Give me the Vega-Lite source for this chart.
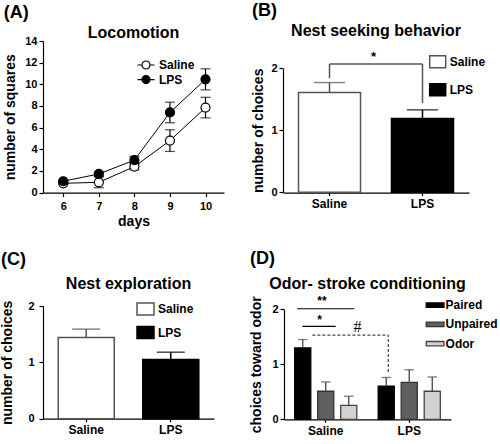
{
  "$schema": "https://vega.github.io/schema/vega-lite/v6.json",
  "padding": {"left": 0, "top": 2, "right": 50, "bottom": 0},
  "background": "white",
  "config": {
    "font": "Liberation Sans",
    "view": {"stroke": null},
    "axis": {"grid": false, "labelOverlap": false, "domainColor": "black", "tickColor": "black", "labelColor": "black", "titleColor": "black", "labelFontWeight": "bold", "labelFontSize": 11, "titleFontWeight": "bold", "titleFontSize": 14, "tickSize": 4, "domainWidth": 1.2, "tickWidth": 1.2, "labelPadding": 2},
    "title": {"fontWeight": "bold", "fontSize": 16, "color": "black"},
    "legend": {"labelFontWeight": "bold", "labelFontSize": 12, "labelColor": "black", "padding": 0, "title": null, "labelLimit": 200}
  },
  "resolve": {"scale": {"x": "independent", "y": "independent", "fill": "independent", "stroke": "independent", "color": "independent"}, "legend": {"fill": "independent", "stroke": "independent"}},
  "spacing": 20,
  "vconcat": [
    {
      "spacing": 27,
      "resolve": {"scale": {"x": "independent", "y": "independent", "fill": "independent", "stroke": "independent", "color": "independent"}, "legend": {"fill": "independent", "stroke": "independent"}},
      "hconcat": [
        {
          "title": {"text": "(A)", "anchor": "start", "fontSize": 18, "offset": 3},
          "vconcat": [
            {
              "title": {"text": "Locomotion", "offset": -6},
              "width": 181,
              "height": 151.6,
              "data": {"values": [
                {"day": 6, "group": "Saline", "mean": 0.86, "lo": 0.76, "hi": 0.96},
                {"day": 6, "group": "LPS", "mean": 1.05, "lo": 0.95, "hi": 1.15},
                {"day": 7, "group": "Saline", "mean": 0.95, "lo": 0.45, "hi": 1.45},
                {"day": 7, "group": "LPS", "mean": 1.72, "lo": 1.52, "hi": 1.92},
                {"day": 8, "group": "Saline", "mean": 2.4, "lo": 2.1, "hi": 2.7},
                {"day": 8, "group": "LPS", "mean": 3.0, "lo": 2.65, "hi": 3.35},
                {"day": 9, "group": "Saline", "mean": 4.8, "lo": 3.8, "hi": 5.8},
                {"day": 9, "group": "LPS", "mean": 7.4, "lo": 6.45, "hi": 8.35},
                {"day": 10, "group": "Saline", "mean": 7.85, "lo": 6.9, "hi": 8.8},
                {"day": 10, "group": "LPS", "mean": 10.46, "lo": 9.49, "hi": 11.43}
              ]},
              "encoding": {
                "x": {"field": "day", "type": "quantitative", "scale": {"domain": [5.43, 10.52], "nice": false, "zero": false}, "axis": {"values": [6, 7, 8, 9, 10], "title": "days", "titlePadding": 3, "labelPadding": 4}}
              },
              "layer": [
                {"mark": {"type": "rule", "color": "black", "strokeWidth": 1.2},
                 "encoding": {"y": {"field": "lo", "type": "quantitative", "title": "number of squares", "scale": {"domain": [0, 14], "nice": false}, "axis": {"values": [0, 2, 4, 6, 8, 10, 12, 14], "labelOverlap": false, "labelExpr": "datum.value", "titlePadding": 7}}, "y2": {"field": "hi"}}},
                {"mark": {"type": "tick", "orient": "horizontal", "size": 10, "thickness": 1.2, "color": "black"},
                 "encoding": {"y": {"field": "lo", "type": "quantitative", "title": "number of squares", "axis": {"values": [0, 2, 4, 6, 8, 10, 12, 14], "labelOverlap": false, "labelExpr": "datum.value", "titlePadding": 7}}}},
                {"mark": {"type": "tick", "orient": "horizontal", "size": 10, "thickness": 1.2, "color": "black"},
                 "encoding": {"y": {"field": "hi", "type": "quantitative", "title": "number of squares", "axis": {"values": [0, 2, 4, 6, 8, 10, 12, 14], "labelOverlap": false, "labelExpr": "datum.value", "titlePadding": 7}}}},
                {"mark": {"type": "line", "color": "black", "strokeWidth": 1},
                 "encoding": {"y": {"field": "mean", "type": "quantitative", "title": "number of squares", "axis": {"values": [0, 2, 4, 6, 8, 10, 12, 14], "labelOverlap": false, "labelExpr": "datum.value", "titlePadding": 7}}, "detail": {"field": "group"}}},
                {"mark": {"type": "point", "shape": "circle", "size": 81, "filled": true, "stroke": "black", "strokeWidth": 1.2, "opacity": 1},
                 "encoding": {
                   "y": {"field": "mean", "type": "quantitative", "title": "number of squares", "axis": {"values": [0, 2, 4, 6, 8, 10, 12, 14], "labelOverlap": false, "labelExpr": "datum.value", "titlePadding": 7}},
                   "fill": {"field": "group", "type": "nominal", "scale": {"domain": ["Saline", "LPS"], "range": ["white", "black"]},
                     "legend": {"orient": "none", "legendX": 97, "legendY": 18, "symbolType": "M-1.7,0H-0.8M0.8,0H1.7M-0.8,0A0.8,0.8 0 1,1 0.8,0A0.8,0.8 0 1,1 -0.8,0", "symbolSize": 100, "symbolStrokeColor": "black", "symbolStrokeWidth": 1.2, "labelOffset": 7, "rowPadding": 0.6}}
                 }}
              ]
            }
          ]
        },
        {
          "title": {"text": "(B)", "anchor": "start", "fontSize": 18, "offset": 3},
          "vconcat": [
            {
              "title": {"text": "Nest seeking behavior", "offset": 2},
              "width": 186,
              "height": 151.6,
              "layer": [
                {
                  "data": {"values": [
                    {"group": "Saline", "mean": 1.61, "hi": 1.77},
                    {"group": "LPS", "mean": 1.19, "hi": 1.33}
                  ]},
                  "layer": [
                    {"mark": {"type": "bar", "strokeWidth": 1.5},
                     "encoding": {
                       "x": {"field": "group", "type": "nominal", "sort": ["Saline", "LPS"], "scale": {"domain": ["Saline", "LPS"], "paddingInner": 0.333, "paddingOuter": 0.1667}, "axis": {"title": null, "labelAngle": 0, "tickSize": 3, "labelFontSize": 12, "labelPadding": 3}},
                       "y": {"field": "mean", "type": "quantitative", "title": "number of choices", "scale": {"domain": [0, 2], "nice": false, "range": [151.3, 27.3]}, "axis": {"values": [0, 1, 2], "labelOverlap": false, "labelExpr": "datum.value", "titlePadding": 5}},
                       "fill": {"field": "group", "type": "nominal", "scale": {"domain": ["Saline", "LPS"], "range": ["white", "black"]}, "legend": {"orient": "none", "legendX": 145.7, "legendY": 11.8, "symbolType": "M-1,-0.75H1V0.75H-1Z", "symbolSize": 256, "symbolStrokeWidth": 1.5, "labelOffset": 3, "rowPadding": 10}},
                       "stroke": {"field": "group", "type": "nominal", "scale": {"domain": ["Saline", "LPS"], "range": ["#555555", "black"]}, "legend": {"orient": "none", "legendX": 145.7, "legendY": 11.8, "symbolType": "M-1,-0.75H1V0.75H-1Z", "symbolSize": 256, "symbolStrokeWidth": 1.5, "labelOffset": 3, "rowPadding": 10}}
                     }},
                    {"mark": {"type": "rule", "strokeWidth": 1.5},
                     "encoding": {
                       "x": {"field": "group", "type": "nominal"},
                       "y": {"field": "mean", "type": "quantitative", "title": "number of choices", "axis": {"values": [0, 1, 2], "labelOverlap": false, "labelExpr": "datum.value", "titlePadding": 5}},
                       "y2": {"field": "hi"},
                       "color": {"condition": {"test": "datum.group === 'Saline'", "value": "#555555"}, "value": "black"}
                     }},
                    {"mark": {"type": "tick", "orient": "horizontal", "size": 31, "thickness": 1.5},
                     "encoding": {
                       "x": {"field": "group", "type": "nominal"},
                       "y": {"field": "hi", "type": "quantitative", "title": "number of choices", "axis": {"values": [0, 1, 2], "labelOverlap": false, "labelExpr": "datum.value", "titlePadding": 5}},
                       "color": {"condition": {"test": "datum.group === 'Saline'", "value": "#555555"}, "value": "black"}
                     }}
                  ]
                },
                {
                  "data": {"values": [
                    {"x": "Saline", "y": 1.84, "y2": 2.07},
                    {"x": "LPS", "y": 1.44, "y2": 2.07}
                  ]},
                  "mark": {"type": "rule", "color": "#555555", "strokeWidth": 1.5},
                  "encoding": {"x": {"field": "x", "type": "nominal", "bandPosition": 0.5}, "y": {"field": "y", "type": "quantitative", "title": "number of choices", "axis": {"values": [0, 1, 2], "labelOverlap": false, "labelExpr": "datum.value", "titlePadding": 5}}, "y2": {"field": "y2"}}
                },
                {
                  "data": {"values": [{"x": "Saline", "x2": "LPS", "y": 2.07}]},
                  "mark": {"type": "rule", "color": "#555555", "strokeWidth": 1.5},
                  "encoding": {"x": {"field": "x", "type": "nominal", "bandPosition": 0.5}, "x2": {"field": "x2", "bandPosition": 0.5}, "y": {"field": "y", "type": "quantitative", "title": "number of choices", "axis": {"values": [0, 1, 2], "labelOverlap": false, "labelExpr": "datum.value", "titlePadding": 5}}}
                },
                {
                  "data": {"values": [{"x": "Saline", "y": 2.19, "label": "*"}]},
                  "mark": {"type": "text", "fontSize": 13, "fontWeight": "bold", "color": "black"},
                  "encoding": {"x": {"field": "x", "type": "nominal", "bandPosition": 1.21}, "y": {"field": "y", "type": "quantitative", "title": "number of choices", "axis": {"values": [0, 1, 2], "labelOverlap": false, "labelExpr": "datum.value", "titlePadding": 5}}, "text": {"field": "label"}}
                }
              ]
            }
          ]
        }
      ]
    },
    {
      "spacing": 35,
      "resolve": {"scale": {"x": "independent", "y": "independent", "fill": "independent", "stroke": "independent", "color": "independent"}, "legend": {"fill": "independent", "stroke": "independent"}},
      "hconcat": [
        {
          "title": {"text": "(C)", "anchor": "start", "fontSize": 18, "offset": 7},
          "vconcat": [
            {
              "title": {"text": "Nest exploration", "offset": 8},
              "width": 171,
              "height": 112.7,
              "data": {"values": [
                {"group": "Saline", "mean": 1.44, "hi": 1.59},
                {"group": "LPS", "mean": 1.05, "hi": 1.18}
              ]},
              "layer": [
                {"mark": {"type": "bar", "strokeWidth": 1.5},
                 "encoding": {
                   "x": {"field": "group", "type": "nominal", "sort": ["Saline", "LPS"], "scale": {"domain": ["Saline", "LPS"], "paddingInner": 0.337, "paddingOuter": 0.18}, "axis": {"title": null, "labelAngle": 0, "tickSize": 3, "labelFontSize": 12, "labelPadding": 3}},
                   "y": {"field": "mean", "type": "quantitative", "title": "number of choices", "scale": {"domain": [0, 2], "nice": false}, "axis": {"values": [0, 1, 2], "labelOverlap": false, "labelExpr": "datum.value", "titlePadding": 13, "labelPadding": 5}},
                   "fill": {"field": "group", "type": "nominal", "scale": {"domain": ["Saline", "LPS"], "range": ["white", "black"]}, "legend": {"orient": "none", "legendX": 93, "legendY": -6.5, "symbolType": "M-1,-0.7H1V0.7H-1Z", "symbolSize": 289, "symbolStrokeWidth": 1.5, "labelOffset": 3, "rowPadding": 4.5}},
                   "stroke": {"field": "group", "type": "nominal", "scale": {"domain": ["Saline", "LPS"], "range": ["#555555", "black"]}, "legend": {"orient": "none", "legendX": 93, "legendY": -6.5, "symbolType": "M-1,-0.7H1V0.7H-1Z", "symbolSize": 289, "symbolStrokeWidth": 1.5, "labelOffset": 3, "rowPadding": 4.5}}
                 }},
                {"mark": {"type": "rule", "strokeWidth": 1.5},
                 "encoding": {
                   "x": {"field": "group", "type": "nominal"},
                   "y": {"field": "mean", "type": "quantitative", "title": "number of choices", "axis": {"values": [0, 1, 2], "labelOverlap": false, "labelExpr": "datum.value", "titlePadding": 13, "labelPadding": 5}},
                   "y2": {"field": "hi"},
                   "color": {"condition": {"test": "datum.group === 'Saline'", "value": "#555555"}, "value": "black"}
                 }},
                {"mark": {"type": "tick", "orient": "horizontal", "size": 28, "thickness": 1.5},
                 "encoding": {
                   "x": {"field": "group", "type": "nominal"},
                   "y": {"field": "hi", "type": "quantitative", "title": "number of choices", "axis": {"values": [0, 1, 2], "labelOverlap": false, "labelExpr": "datum.value", "titlePadding": 13, "labelPadding": 5}},
                   "color": {"condition": {"test": "datum.group === 'Saline'", "value": "#555555"}, "value": "black"}
                 }}
              ]
            }
          ]
        },
        {
          "title": {"text": "(D)", "anchor": "start", "fontSize": 18, "offset": 8},
          "vconcat": [
            {
              "title": {"text": "Odor- stroke conditioning", "offset": 3},
              "width": 167,
              "height": 113.3,
              "layer": [
                {
                  "data": {"values": [
                    {"group": "Saline", "cond": "Paired", "mean": 1.30, "hi": 1.45},
                    {"group": "Saline", "cond": "Unpaired", "mean": 0.51, "hi": 0.68},
                    {"group": "Saline", "cond": "Odor", "mean": 0.255, "hi": 0.42},
                    {"group": "LPS", "cond": "Paired", "mean": 0.605, "hi": 0.76},
                    {"group": "LPS", "cond": "Unpaired", "mean": 0.67, "hi": 0.90},
                    {"group": "LPS", "cond": "Odor", "mean": 0.51, "hi": 0.77}
                  ]},
                  "encoding": {
                    "x": {"field": "group", "type": "nominal", "sort": ["Saline", "LPS"], "scale": {"domain": ["Saline", "LPS"], "paddingInner": 0.256, "paddingOuter": 0.128}, "axis": {"title": null, "labelAngle": 0, "tickSize": 3, "labelFontSize": 12, "labelPadding": 3}},
                    "xOffset": {"field": "cond", "type": "nominal", "scale": {"domain": ["Paired", "Unpaired", "Odor"], "paddingInner": 0.3, "paddingOuter": 0}}
                  },
                  "layer": [
                    {"mark": {"type": "bar", "strokeWidth": 1.3},
                     "encoding": {
                       "y": {"field": "mean", "type": "quantitative", "title": "choices toward odor", "scale": {"domain": [0, 2], "nice": false, "range": [113.3, 3.3]}, "axis": {"values": [0, 1, 2], "labelOverlap": false, "labelExpr": "datum.value", "titlePadding": 8}},
                       "fill": {"field": "cond", "type": "nominal", "scale": {"domain": ["Paired", "Unpaired", "Odor"], "range": ["black", "#606060", "#d2d2d2"]}, "legend": {"orient": "none", "legendX": 141.6, "legendY": -10.4, "symbolType": "M-1,-0.25H1V0.25H-1Z", "symbolSize": 313, "symbolStrokeWidth": 1.3, "labelOffset": 1, "rowPadding": 3.3}},
                       "stroke": {"field": "cond", "type": "nominal", "scale": {"domain": ["Paired", "Unpaired", "Odor"], "range": ["black", "#333333", "#444444"]}, "legend": {"orient": "none", "legendX": 141.6, "legendY": -10.4, "symbolType": "M-1,-0.25H1V0.25H-1Z", "symbolSize": 313, "symbolStrokeWidth": 1.3, "labelOffset": 1, "rowPadding": 3.3}}
                     }},
                    {"mark": {"type": "rule", "strokeWidth": 1.3, "color": "#444444"},
                     "encoding": {"y": {"field": "mean", "type": "quantitative", "title": "choices toward odor", "axis": {"values": [0, 1, 2], "labelOverlap": false, "labelExpr": "datum.value", "titlePadding": 8}}, "y2": {"field": "hi"}}},
                    {"mark": {"type": "tick", "orient": "horizontal", "size": 9.5, "thickness": 1.3, "color": "#444444"},
                     "encoding": {"y": {"field": "hi", "type": "quantitative", "title": "choices toward odor", "axis": {"values": [0, 1, 2], "labelOverlap": false, "labelExpr": "datum.value", "titlePadding": 8}}}}
                  ]
                },
                {
                  "data": {"values": [{"g": "Saline", "y": 2.01}]},
                  "mark": {"type": "rule", "color": "black", "strokeWidth": 1.2},
                  "encoding": {"x": {"field": "g", "type": "nominal", "bandPosition": 0.04}, "x2": {"field": "g", "bandPosition": 0.96}, "y": {"field": "y", "type": "quantitative", "title": "choices toward odor", "axis": {"values": [0, 1, 2], "labelOverlap": false, "labelExpr": "datum.value", "titlePadding": 8}}}
                },
                {
                  "data": {"values": [{"g": "Saline", "y": 1.69}]},
                  "mark": {"type": "rule", "color": "black", "strokeWidth": 1.2},
                  "encoding": {"x": {"field": "g", "type": "nominal", "bandPosition": 0.124}, "x2": {"field": "g", "bandPosition": 0.66}, "y": {"field": "y", "type": "quantitative", "title": "choices toward odor", "axis": {"values": [0, 1, 2], "labelOverlap": false, "labelExpr": "datum.value", "titlePadding": 8}}}
                },
                {
                  "data": {"values": [{"g": "Saline", "y": 2.16, "label": "**"}]},
                  "mark": {"type": "text", "fontSize": 12, "fontWeight": "bold", "color": "black"},
                  "encoding": {"x": {"field": "g", "type": "nominal", "bandPosition": 0.44}, "y": {"field": "y", "type": "quantitative", "title": "choices toward odor", "axis": {"values": [0, 1, 2], "labelOverlap": false, "labelExpr": "datum.value", "titlePadding": 8}}, "text": {"field": "label"}}
                },
                {
                  "data": {"values": [{"g": "Saline", "y": 1.80, "label": "*"}]},
                  "mark": {"type": "text", "fontSize": 12, "fontWeight": "bold", "color": "black"},
                  "encoding": {"x": {"field": "g", "type": "nominal", "bandPosition": 0.40}, "y": {"field": "y", "type": "quantitative", "title": "choices toward odor", "axis": {"values": [0, 1, 2], "labelOverlap": false, "labelExpr": "datum.value", "titlePadding": 8}}, "text": {"field": "label"}}
                },
                {
                  "data": {"values": [{"g": "Saline", "y": 1.68, "label": "#"}]},
                  "mark": {"type": "text", "fontSize": 16, "font": "Liberation Serif", "color": "black"},
                  "encoding": {"x": {"field": "g", "type": "nominal", "bandPosition": 1.01}, "y": {"field": "y", "type": "quantitative", "title": "choices toward odor", "axis": {"values": [0, 1, 2], "labelOverlap": false, "labelExpr": "datum.value", "titlePadding": 8}}, "text": {"field": "label"}}
                },
                {
                  "data": {"values": [{"g1": "Saline", "g2": "LPS", "y": 1.53}]},
                  "mark": {"type": "rule", "color": "#444444", "strokeWidth": 1.2, "strokeDash": [3, 2]},
                  "encoding": {"x": {"field": "g1", "type": "nominal", "bandPosition": 0.285}, "x2": {"field": "g2", "bandPosition": 0.163}, "y": {"field": "y", "type": "quantitative", "title": "choices toward odor", "axis": {"values": [0, 1, 2], "labelOverlap": false, "labelExpr": "datum.value", "titlePadding": 8}}}
                },
                {
                  "data": {"values": [{"g": "LPS", "y": 0.86, "y2": 1.53}]},
                  "mark": {"type": "rule", "color": "#444444", "strokeWidth": 1.2, "strokeDash": [3, 2]},
                  "encoding": {"x": {"field": "g", "type": "nominal", "bandPosition": 0.163}, "y": {"field": "y", "type": "quantitative", "title": "choices toward odor", "axis": {"values": [0, 1, 2], "labelOverlap": false, "labelExpr": "datum.value", "titlePadding": 8}}, "y2": {"field": "y2"}}
                }
              ]
            }
          ]
        }
      ]
    }
  ]
}
